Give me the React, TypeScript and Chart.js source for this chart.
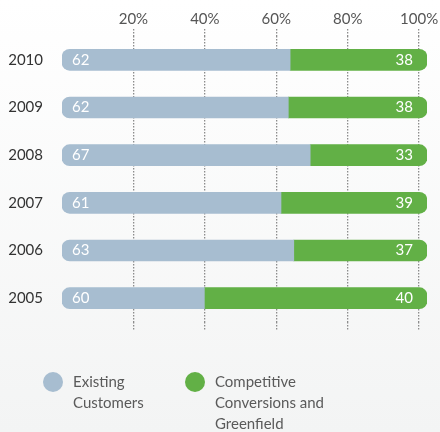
import React, { useEffect, useRef } from "react";
import { Chart, registerables } from "chart.js";

Chart.register(...registerables);

const years = ["2010", "2009", "2008", "2007", "2006", "2005"];
// bar lengths as drawn in the picture
const existingShare = [62.5, 62, 68, 60, 63.5, 39];
const competitiveShare = [37.5, 38, 32, 40, 36.5, 61];
// numbers printed on the bars
const existingLabels = ["62", "62", "67", "61", "63", "60"];
const competitiveLabels = ["38", "38", "33", "39", "37", "40"];
const gridTicks = [20, 40, 60, 80, 100];
const seriesNames = [["Existing", "Customers"], ["Competitive", "Conversions and", "Greenfield"]];
const seriesColors = ["#a7bdd0", "#62b046"];

const FONT = "Lato, 'Open Sans', sans-serif";

const labelPlugin = {
  id: "barLabels",
  afterDatasetsDraw(chart: any) {
    const ctx = chart.ctx;
    ctx.save();
    ctx.fillStyle = "#ffffff";
    ctx.font = `15px ${FONT}`;
    ctx.textBaseline = "middle";
    const m0 = chart.getDatasetMeta(0);
    const m1 = chart.getDatasetMeta(1);
    m0.data.forEach((bar: any, i: number) => {
      const left = Math.min(bar.x, bar.base);
      ctx.textAlign = "left";
      ctx.fillText(existingLabels[i], left + 10, bar.y);
    });
    m1.data.forEach((bar: any, i: number) => {
      const right = Math.max(bar.x, bar.base);
      ctx.textAlign = "right";
      ctx.fillText(competitiveLabels[i], right - 14, bar.y);
    });
    ctx.restore();
  },
};

const legendPlugin = {
  id: "customLegend",
  afterDraw(chart: any) {
    const ctx = chart.ctx;
    const y0 = chart.chartArea.bottom + 60;
    const xs = [53, 195];
    ctx.save();
    ctx.font = `15px ${FONT}`;
    ctx.textBaseline = "middle";
    ctx.textAlign = "left";
    chart.data.datasets.forEach((ds: any, i: number) => {
      ctx.fillStyle = ds.backgroundColor;
      ctx.beginPath();
      ctx.arc(xs[i], y0, 10, 0, Math.PI * 2);
      ctx.fill();
      ctx.fillStyle = "#5a5a5a";
      seriesNames[i].forEach((line, j) => {
        ctx.fillText(line, xs[i] + 20, y0 + j * 21);
      });
    });
    ctx.restore();
  },
};

export default function App() {
  const ref = useRef<HTMLCanvasElement | null>(null);

  useEffect(() => {
    document.body.style.margin = "0";
    const chart = new Chart(ref.current as HTMLCanvasElement, {
      type: "bar",
      data: {
        labels: years,
        datasets: [
          {
            label: seriesNames[0].join(" "),
            data: existingShare,
            backgroundColor: seriesColors[0],
            borderSkipped: false,
            borderRadius: { topLeft: 8, bottomLeft: 8, topRight: 0, bottomRight: 0 },
            barThickness: 21,
          },
          {
            label: seriesNames[1].join(" "),
            data: competitiveShare,
            backgroundColor: seriesColors[1],
            borderSkipped: false,
            borderRadius: { topLeft: 0, bottomLeft: 0, topRight: 8, bottomRight: 8 },
            barThickness: 21,
          },
        ],
      },
      options: {
        indexAxis: "y",
        animation: false,
        responsive: false,
        layout: { padding: { top: 9, right: 13, bottom: 102, left: 0 } },
        plugins: { legend: { display: false }, tooltip: { enabled: false } },
        scales: {
          x: {
            stacked: true,
            min: 0,
            max: 100,
            display: false,
          },
          x2: {
            type: "linear",
            position: "top",
            min: 0,
            max: 102.2,
            z: 1,
            afterBuildTicks: (scale: any) => {
              scale.ticks = gridTicks.map((v) => ({ value: v }));
            },
            ticks: {
              callback: (v: any) => `${v}%`,
              color: "#555",
              font: { family: FONT, size: 15 },
              padding: 1,
              maxRotation: 0,
            },
            grid: {
              color: "#8c8c8c",
              lineWidth: 1.3,
              tickLength: 7,
              drawOnChartArea: true,
              drawTicks: true,
              tickBorderDash: [1.5, 1.5],
            },
            border: { display: false, dash: [1.5, 1.5] },
          } as any,
          x3: {
            type: "linear",
            position: "bottom",
            min: 0,
            max: 102.2,
            afterBuildTicks: (scale: any) => {
              scale.ticks = gridTicks.map((v) => ({ value: v }));
            },
            ticks: { display: false },
            grid: {
              color: "#8c8c8c",
              lineWidth: 1.3,
              tickLength: 8,
              drawOnChartArea: false,
              drawTicks: true,
              tickBorderDash: [1.5, 1.5],
            },
            border: { display: false },
          } as any,
          y: {
            stacked: true,
            grid: { display: false, drawTicks: false },
            border: { display: false },
            ticks: {
              color: "#333333",
              font: { family: FONT, size: 15, weight: "normal" },
              padding: 19,
            },
            afterFit: (scale: any) => {
              scale.width = 62;
            },
          },
        },
      },
      plugins: [labelPlugin, legendPlugin],
    } as any);
    (chart.options.scales as any).x2.grid.borderDash = [1.5, 1.5];
    chart.update();
    return () => chart.destroy();
  }, []);

  return (
    <div
      style={{
        position: "fixed",
        left: 0,
        top: 0,
        width: 440,
        height: 432,
        background: "linear-gradient(#ffffff, #f3f4f4)",
      }}
    >
      <canvas ref={ref} width={440} height={432} style={{ display: "block" }} />
    </div>
  );
}
